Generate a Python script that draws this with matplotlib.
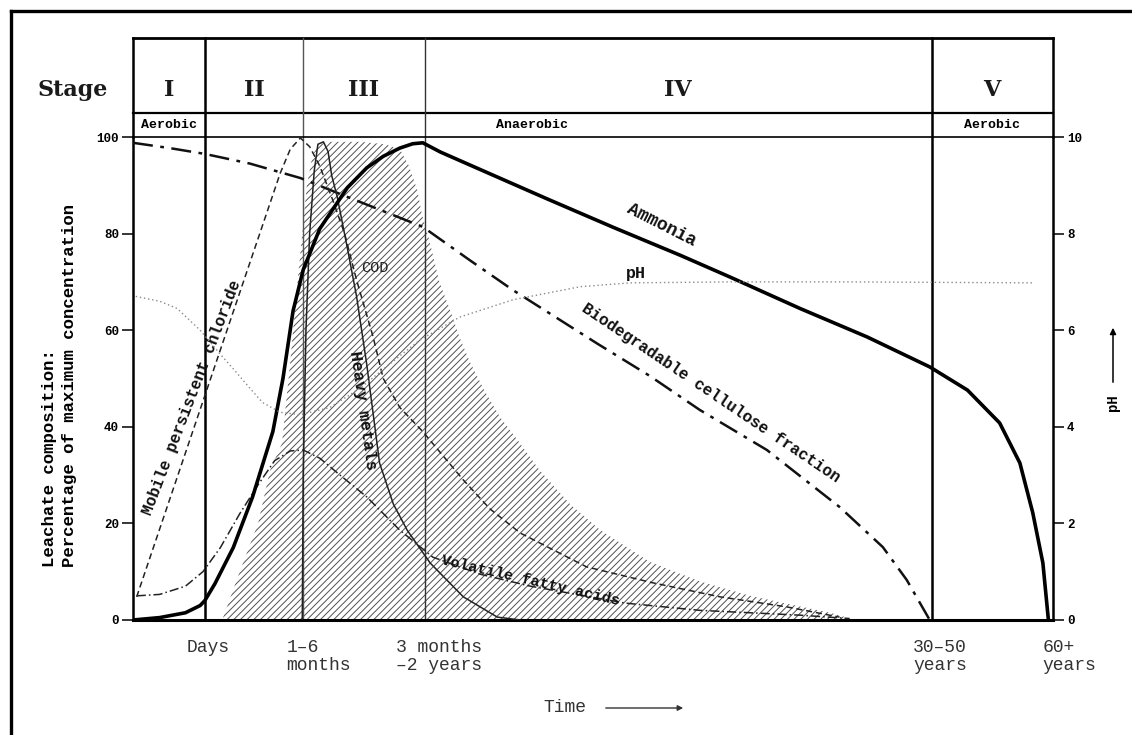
import matplotlib
matplotlib.use("Agg")
import matplotlib.pyplot as plt
from matplotlib.lines import Line2D
import matplotlib.transforms as mtransforms

# ---------------- data (time axis is a qualitative 0-100 position scale) ----------------
stage_bounds = [7.8, 18.5, 31.7, 86.8]
stage_names = ["I", "II", "III", "IV", "V"]
phase_names = ["Aerobic", "Anaerobic", "Aerobic"]

ammonia_x = [0.0, 2.9, 5.7, 7.3, 7.8, 8.9, 10.9, 13.0, 15.2, 16.3, 17.4, 18.5, 20.3, 23.3,
             25.4, 27.2, 29.0, 30.4, 31.5, 33.4, 37.7, 45.0, 52.2, 59.5, 64.9, 72.5, 79.8,
             86.6, 90.7, 94.2, 96.4, 97.8, 98.9, 99.5]
ammonia_y = [0, 0.5, 1.5, 3, 4, 7.5, 15, 25.5, 39, 50, 64, 72.5, 81, 89.5,
             93.6, 96.0, 97.7, 98.6, 98.8, 96.9, 93.3, 87.2, 81.3, 75.5, 71, 64.5, 58.6,
             52.4, 47.6, 40.8, 32.5, 22.2, 11.8, 0]

ph_x = [0.3, 2.9, 4.8, 7.3, 9.5, 10.9, 12.7, 14.1, 16.0, 18.2, 21.4, 24.7, 27.9, 31.2,
        35.5, 41.3, 48.6, 54.0, 64.9, 77.9, 97.8]
ph_y = [6.7, 6.6, 6.45, 6.0, 5.5, 5.2, 4.8, 4.5, 4.3, 4.25, 4.4, 4.8, 5.3, 5.8,
        6.27, 6.63, 6.9, 6.98, 7.0, 7.0, 6.98]

cellulose_x = [0.0, 4.0, 7.8, 12.7, 18.2, 23.3, 27.4, 31.5, 36.6, 41.3, 50.4, 56.2, 61.6,
               68.9, 76.8, 81.5, 84.1, 86.6]
cellulose_y = [98.8, 97.7, 96.5, 94.5, 91.5, 87.6, 84.5, 81.4, 74.5, 68.3, 57.3, 50.5, 43.5,
               35.2, 23.4, 15.1, 8.3, 0]

chloride_x = [0.4, 16.0, 17.1, 18.2, 19.2, 20.3, 21.7, 23.0, 24.3, 26.1, 27.2, 29.0, 31.5,
              35.9, 38.8, 42.1, 49.3, 56.5, 63.8, 71.1, 76.8]
chloride_y = [4.8, 92.5, 97.5, 99.8, 98, 94, 87, 80, 70.4, 58.6, 50, 44, 39,
              29, 23, 18, 11, 7.7, 4.8, 2.7, 0.6]

metals_x = [18.4, 18.5, 18.8, 19.2, 19.7, 20.1, 20.7, 21.2, 21.6, 22.2, 23.3, 24.3, 25.4,
            26.8, 28.3, 29.8, 32.3, 35.9, 39.6, 42.1]
metals_y = [0, 30, 60, 80, 93, 98.5, 99, 97, 92, 87.6, 77, 67, 53,
            32.5, 24, 18.6, 11.8, 4.8, 0.6, 0]

vfa_x = [0.4, 2.9, 5.7, 7.6, 9.5, 11.6, 13.6, 15.4, 17.1, 18.5, 20.3, 22.5, 25.4, 29.0,
         32.6, 37.7, 43.2, 53.5, 61.6, 72.5, 77.9]
vfa_y = [5, 5.3, 7, 10, 15, 22, 28, 33, 35, 35.2, 33.5, 30, 25.5, 18.6,
         13, 9.5, 7, 3.5, 2, 1, 0.3]

cod_x = [9.7, 11.6, 13.6, 14.9, 16.2, 17.1, 17.8, 18.4, 18.9, 19.5, 20.1, 21.4, 24.7, 27.4,
         29.0, 30.0, 30.9, 31.4, 32.2, 33.3, 34.5, 35.5, 36.6, 38.2, 39.9, 42.1, 44.2, 47.5,
         50.8, 56.2, 61.6, 67.1, 72.5, 75.8, 78.5]
cod_y = [0, 10, 20, 31, 36.6, 53.6, 68.3, 80, 90, 96, 98.5, 99, 99, 98.5,
         97.5, 94, 89, 84, 78.7, 70, 64, 58.5, 53.5, 47.5, 42, 36.5, 31, 24,
         18.6, 12, 8, 5, 2.8, 1.5, 0]

left_ticks = [0, 20, 40, 60, 80, 100]
right_ticks = [0, 2, 4, 6, 8, 10]

# ---------------- figure ----------------
W, H = 1132, 735
fig = plt.figure(figsize=(W / 100, H / 100), dpi=100)
fig.patch.set_facecolor("white")
plt.rcParams["hatch.linewidth"] = 0.7

def fx(px):
    return px / W

def fy(py):
    return 1 - py / H

ax = fig.add_axes([fx(133), fy(620), (1053 - 133) / W, (620 - 137) / H])
ax.set_xlim(0, 100)
ax.set_ylim(0, 100)
ax2 = ax.twinx()
ax2.set_ylim(0, 10)

MONO = "Liberation Mono"
SERIF = "DejaVu Serif"

# spines
for s, lw in [("left", 1.8), ("right", 1.8), ("bottom", 2.2), ("top", 1.2)]:
    ax.spines[s].set_linewidth(lw)
for s in ax2.spines.values():
    s.set_visible(False)

ax.set_xticks([])
ax.set_yticks(left_ticks)
ax.tick_params(axis="y", direction="out", length=8, width=1.1, pad=2)
for lab in ax.get_yticklabels():
    lab.set_fontfamily(MONO)
    lab.set_fontweight("bold")
    lab.set_fontsize(9)
ax2.set_yticks(right_ticks)
ax2.tick_params(axis="y", direction="out", length=8, width=1.1, pad=2)
for lab in ax2.get_yticklabels():
    lab.set_fontfamily(MONO)
    lab.set_fontweight("bold")
    lab.set_fontsize(9)

# COD hatched area
ax.fill_between(cod_x, 0, cod_y, facecolor="none", edgecolor="#505050",
                hatch="/////", linewidth=0, zorder=1)

# curves
ax2.plot(ph_x, ph_y, color="#8a8a8a", lw=1.0, ls=(0, (1, 2)), zorder=2)
ax.plot(cellulose_x, cellulose_y, color="#111", lw=1.8, ls=(0, (8, 3, 1.5, 3)), zorder=3)
ax.plot(chloride_x, chloride_y, color="#222", lw=1.1, ls=(0, (4, 2.5)), zorder=3)
ax.plot(vfa_x, vfa_y, color="#222", lw=1.1, ls=(0, (6, 2, 1, 2)), zorder=3)
ax.plot(metals_x, metals_y, color="#222", lw=1.1, zorder=3)
ax.plot(ammonia_x, ammonia_y, color="black", lw=2.6, zorder=4)

# stage table
TOP = (620 - 38) / 483
ROW = (620 - 113) / 483
bt = mtransforms.blended_transform_factory(ax.transData, ax.transAxes)
ax.plot([0, 1], [TOP, TOP], transform=ax.transAxes, color="black", lw=2.0, clip_on=False)
ax.plot([0, 1], [ROW, ROW], transform=ax.transAxes, color="black", lw=1.6, clip_on=False)
ax.plot([0, 0], [1, TOP], transform=ax.transAxes, color="black", lw=1.8, clip_on=False)
ax.plot([1, 1], [1, TOP], transform=ax.transAxes, color="black", lw=1.8, clip_on=False)
for b, lw, c in zip(stage_bounds, [1.8, 1.0, 1.0, 1.8], ["black", "#555", "#333", "black"]):
    ax.plot([b, b], [0, TOP], transform=bt, color=c, lw=lw, clip_on=False, zorder=2)

edges = [0] + stage_bounds + [100]
num_y = (620 - 90) / 483
for i, name in enumerate(stage_names):
    ax.text((edges[i] + edges[i + 1]) / 2, num_y, name, transform=bt, ha="center",
            va="center", fontsize=16, family=SERIF, weight="bold", color="#1a1a1a")
ax.text(-0.066, num_y, "Stage", transform=ax.transAxes, ha="center", va="center",
        fontsize=16, family=SERIF, weight="bold", color="#1a1a1a")

ph_row = (620 - 125) / 483
ax.text((edges[0] + edges[1]) / 2, ph_row, phase_names[0], transform=bt, ha="center",
        va="center", fontsize=9.5, family=MONO, weight="bold")
ax.text(43.4, ph_row, phase_names[1], transform=bt, ha="center", va="center",
        fontsize=9.5, family=MONO, weight="bold")
ax.text((edges[4] + edges[5]) / 2, ph_row, phase_names[2], transform=bt, ha="center",
        va="center", fontsize=9.5, family=MONO, weight="bold")

# curve labels
lab = dict(family=MONO, weight="bold", ha="center", va="center", color="#111", zorder=5)
ax.text(6.4, 46.0, "Mobile persistent chloride", rotation=69, fontsize=11.5, **lab)
ax.text(26.3, 72.9, "COD", fontsize=11, family=MONO, ha="center", va="center", color="#222")
ax.text(25.0, 43.5, "Heavy metals", rotation=-82, fontsize=12, **lab)
ax.text(57.5, 81.8, "Ammonia", rotation=-27, fontsize=13, **lab)
ax.text(54.7, 71.8, "pH", fontsize=12, **lab)
ax.text(62.8, 47.0, "Biodegradable cellulose fraction", rotation=-34, fontsize=11.5, **lab)
ax.text(43.2, 8.2, "Volatile fatty acids", rotation=-13, fontsize=11, **lab)

# y labels
fig.text(fx(50), fy(567), "Leachate composition:", rotation=90, ha="center", va="bottom",
         fontsize=12.5, family=MONO, weight="bold")
fig.text(fx(70), fy(567), "Percentage of maximum concentration", rotation=90, ha="center",
         va="bottom", fontsize=12.5, family=MONO, weight="bold")
fig.text(fx(1113), fy(403), "pH", rotation=90, ha="center", va="center", fontsize=10,
         family=MONO, weight="bold")
fig.add_artist(matplotlib.patches.FancyArrowPatch((fx(1113), fy(385)), (fx(1113), fy(325)),
               transform=fig.transFigure, arrowstyle="-|>", mutation_scale=9, lw=1.1,
               color="black"))

# time labels
r1 = (620 - 647) / 483
r2 = (620 - 666) / 483
tl = dict(transform=bt, va="center", fontsize=13, family=MONO, color="#333")
ax.text(8.15, r1, "Days", ha="center", **tl)
ax.text(16.7, r1, "1\u20136", ha="left", **tl)
ax.text(16.7, r2, "months", ha="left", **tl)
ax.text(28.6, r1, "3 months", ha="left", **tl)
ax.text(28.6, r2, "\u20132 years", ha="left", **tl)
ax.text(84.8, r1, "30\u201350", ha="left", **tl)
ax.text(84.8, r2, "years", ha="left", **tl)
ax.text(98.9, r1, "60+", ha="left", **tl)
ax.text(98.9, r2, "years", ha="left", **tl)
fig.text(fx(565), fy(708), "Time", ha="center", va="center", fontsize=13, family=MONO,
         color="#333")
fig.add_artist(matplotlib.patches.FancyArrowPatch((fx(603), fy(708)), (fx(686), fy(708)),
               transform=fig.transFigure, arrowstyle="-|>", mutation_scale=8, lw=1.0,
               color="#333"))

# outer frame
fig.add_artist(Line2D([fx(11), 1], [fy(11), fy(11)], transform=fig.transFigure, lw=2.4,
                      color="black"))
fig.add_artist(Line2D([fx(11), fx(11)], [fy(11), 0], transform=fig.transFigure, lw=2.4,
                      color="black"))

fig.savefig("out.png", dpi=100)
